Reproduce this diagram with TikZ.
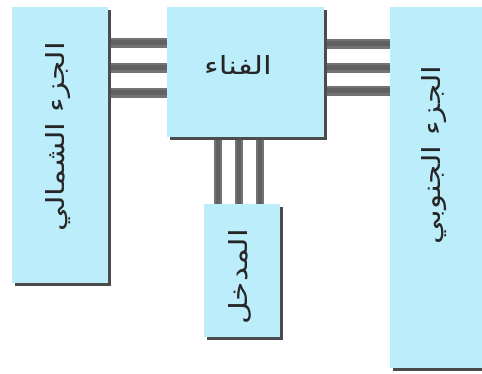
\documentclass[tikz,border=0pt]{standalone}
\usepackage{fontspec}
\newfontfamily\arabicfont[Script=Arabic]{DejaVu Sans}
\TeXXeTstate=1
\usetikzlibrary{shadows}
\definecolor{boxfill}{HTML}{BCEDFB}
\definecolor{shadowgray}{HTML}{4A4A4A}
\tikzset{
  box/.style={draw=none, fill=boxfill, minimum width=#1, inner sep=0pt, anchor=north west,
    drop shadow={shadow xshift=3pt, shadow yshift=-3pt, fill=shadowgray, opacity=0.9}},
  hbar/.style={line width=10pt, draw=black!55, preaction={draw=black!40, line width=10pt},
    postaction={draw=black!62, line width=5pt}},
  vbar/.style={line width=8pt, draw=black!55, postaction={draw=black!62, line width=4pt}},
  lbl/.style={font=\arabicfont\fontsize{25}{28}\selectfont, text=black!85, inner sep=0pt},
}
\begin{document}
\begin{tikzpicture}[x=1pt,y=-1pt]
\useasboundingbox (0,0) rectangle (482,374);
% boxes
\node[box=96pt, minimum height=276pt] (north) at (12,7) {};
\node[box=157pt, minimum height=130pt] (hall) at (167,7) {};
\node[box=92pt, minimum height=361pt] (south) at (390,7) {};
\node[box=76pt, minimum height=133pt] (entry) at (204,204) {};
% connectors left
\foreach \y in {43,68,93}{
  \draw[hbar] (north.east |- 0,\y) -- (hall.west |- 0,\y);
}
% connectors right
\foreach \y in {44,68,91}{
  \draw[hbar] (hall.east |- 0,\y) -- (south.west |- 0,\y);
}
% connectors down
\foreach \x in {218,239,260}{
  \draw[vbar] (hall.south -| \x,0) -- (entry.north -| \x,0);
}
% redraw boxes above bars
\node[box=96pt, minimum height=276pt] at (12,7) {};
\node[box=157pt, minimum height=130pt] at (167,7) {};
\node[box=92pt, minimum height=361pt] at (390,7) {};
\node[box=76pt, minimum height=133pt] at (204,204) {};
% labels
\node[lbl, xscale=1.25] (tHall) at (238,65) {\beginR الفناء\endR};
\node[lbl, rotate=90, xscale=1.25] (tNorth) at (58,137) {\beginR الجزء الشمالي\endR};
\node[lbl, rotate=90, xscale=1.25] (tSouth) at (434,155) {\beginR الجزء الجنوبي\endR};
\node[lbl, rotate=90, xscale=1.25] (tEntry) at (240,277) {\beginR المدخل\endR};
\end{tikzpicture}
\end{document}
